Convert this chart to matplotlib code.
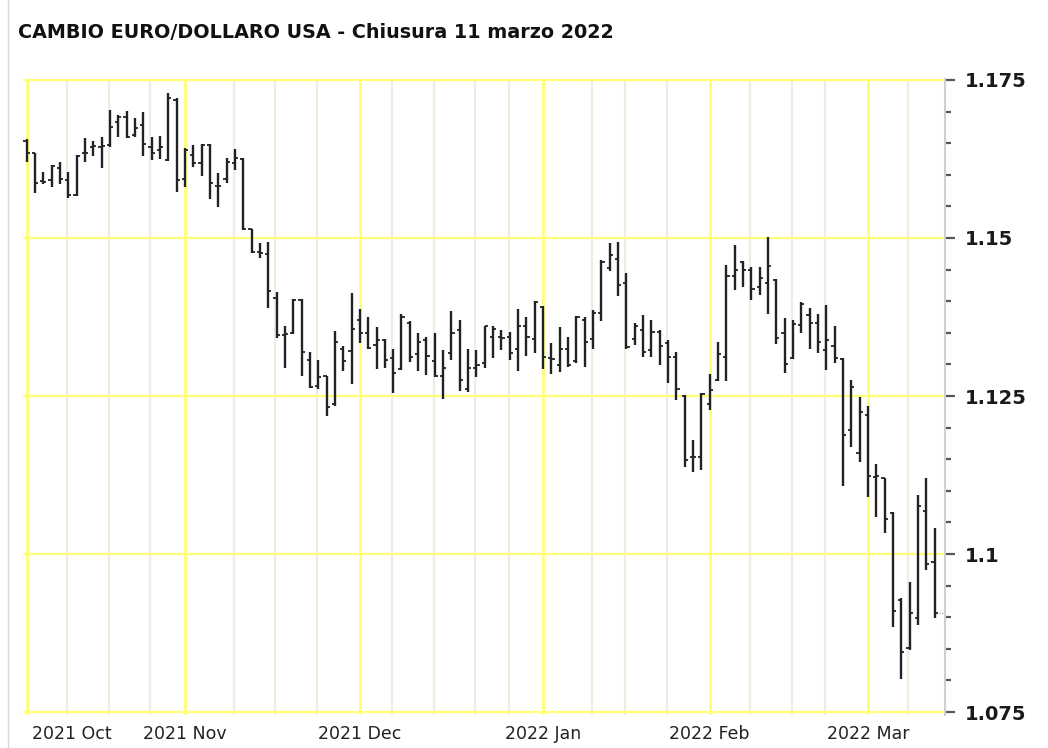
import numpy as np
import pandas as pd
import matplotlib
matplotlib.use('Agg')
import matplotlib.pyplot as plt
from matplotlib.lines import Line2D
from matplotlib.ticker import MultipleLocator, FuncFormatter

# trading days shown (US market holidays removed)
holidays = ['2021-10-11', '2021-11-25', '2021-12-24', '2022-01-17', '2022-02-21']
dates = pd.bdate_range('2021-10-04', '2022-03-11')
dates = dates[~dates.isin(pd.to_datetime(holidays))]

month_labels = ['2021 Oct', '2021 Nov', '2021 Dec', '2022 Jan', '2022 Feb', '2022 Mar']

opens = [1.1653, 1.1634, 1.1590, 1.1592, 1.1610, 1.1592, 1.1568, 1.1634, 1.1644, 1.1644,
         1.1647, 1.1684, 1.1692, 1.1663, 1.1678, 1.1644, 1.1639, 1.1623, 1.1718,
         1.1594, 1.1631, 1.1618, 1.1647, 1.1582, 1.1594, 1.1618, 1.1625, 1.1514, 1.1478,
         1.1475, 1.1405, 1.1347, 1.1349, 1.1402, 1.1307, 1.1266, 1.1281, 1.1237, 1.1324,
         1.1321,
         1.1371, 1.1349, 1.1331, 1.1339, 1.1310, 1.1292, 1.1366, 1.1316, 1.1339, 1.1306,
         1.1282, 1.1318, 1.1355, 1.1261, 1.1294, 1.1302, 1.1343, 1.1343, 1.1343, 1.1325,
         1.1361, 1.1340,
         1.1391, 1.1310, 1.1299, 1.1324, 1.1306, 1.1371, 1.1340, 1.1381, 1.1452, 1.1466,
         1.1429, 1.1340, 1.1354, 1.1323, 1.1352, 1.1334, 1.1312, 1.1250, 1.1153, 1.1153,
         1.1238, 1.1275, 1.1311, 1.1440, 1.1462, 1.1450, 1.1422, 1.1428, 1.1434, 1.1349,
         1.1310, 1.1362, 1.1378, 1.1366, 1.1322, 1.1329, 1.1308, 1.1197, 1.1160,
         1.1220, 1.1122, 1.1120, 1.1065, 1.0927, 1.0851, 1.0898, 1.1068, 1.0988]

highs = [1.1657, 1.1634, 1.1604, 1.1616, 1.1620, 1.1604, 1.1631, 1.1658, 1.1653, 1.1660,
         1.1703, 1.1695, 1.1701, 1.1690, 1.1699, 1.1660, 1.1661, 1.1729, 1.1721,
         1.1642, 1.1647, 1.1648, 1.1649, 1.1603, 1.1626, 1.1641, 1.1626, 1.1515, 1.1492,
         1.1493, 1.1415, 1.1360, 1.1403, 1.1403, 1.1320, 1.1307, 1.1281, 1.1353, 1.1329,
         1.1413,
         1.1387, 1.1375, 1.1359, 1.1340, 1.1324, 1.1380, 1.1368, 1.1350, 1.1343, 1.1349,
         1.1323, 1.1385, 1.1371, 1.1324, 1.1323, 1.1361, 1.1360, 1.1354, 1.1352, 1.1387,
         1.1375, 1.1401,
         1.1392, 1.1334, 1.1359, 1.1344, 1.1377, 1.1375, 1.1386, 1.1465, 1.1492, 1.1494,
         1.1444, 1.1366, 1.1378, 1.1370, 1.1354, 1.1339, 1.1320, 1.1252, 1.1180, 1.1254,
         1.1285, 1.1336, 1.1457, 1.1489, 1.1464, 1.1454, 1.1454, 1.1501, 1.1435, 1.1373,
         1.1371, 1.1398, 1.1389, 1.1380, 1.1394, 1.1361, 1.1310, 1.1275, 1.1248,
         1.1234, 1.1142, 1.1121, 1.1067, 1.0930, 1.0956, 1.1093, 1.1120, 1.1041]

lows = [1.1621, 1.1571, 1.1585, 1.1581, 1.1585, 1.1563, 1.1567, 1.1620, 1.1630, 1.1610,
        1.1644, 1.1660, 1.1658, 1.1660, 1.1629, 1.1623, 1.1625, 1.1622, 1.1572,
        1.1581, 1.1613, 1.1598, 1.1561, 1.1549, 1.1587, 1.1608, 1.1513, 1.1477, 1.1468,
        1.1389, 1.1341, 1.1294, 1.1348, 1.1281, 1.1262, 1.1261, 1.1219, 1.1234, 1.1290,
        1.1269,
        1.1334, 1.1324, 1.1292, 1.1294, 1.1254, 1.1291, 1.1304, 1.1290, 1.1283, 1.1280,
        1.1246, 1.1307, 1.1258, 1.1257, 1.1280, 1.1295, 1.1310, 1.1322, 1.1307, 1.1290,
        1.1313, 1.1318,
        1.1292, 1.1285, 1.1288, 1.1296, 1.1302, 1.1296, 1.1325, 1.1368, 1.1447, 1.1408,
        1.1325, 1.1331, 1.1312, 1.1312, 1.1299, 1.1271, 1.1244, 1.1138, 1.1129, 1.1133,
        1.1228, 1.1273, 1.1273, 1.1418, 1.1423, 1.1402, 1.1410, 1.1380, 1.1333, 1.1286,
        1.1308, 1.1349, 1.1325, 1.1318, 1.1291, 1.1303, 1.1108, 1.1169, 1.1146,
        1.1091, 1.1058, 1.1033, 1.0885, 1.0803, 1.0848, 1.0888, 1.0975, 1.0898]

closes = [1.1635, 1.1587, 1.1589, 1.1614, 1.1594, 1.1568, 1.1629, 1.1635, 1.1645, 1.1646,
          1.1675, 1.1692, 1.1659, 1.1674, 1.1648, 1.1634, 1.1644, 1.1721, 1.1592,
          1.1639, 1.1618, 1.1647, 1.1587, 1.1582, 1.1621, 1.1626, 1.1515, 1.1478, 1.1476,
          1.1416, 1.1347, 1.1348, 1.1402, 1.1320, 1.1264, 1.1280, 1.1233, 1.1335, 1.1305,
          1.1356,
          1.1349, 1.1326, 1.1339, 1.1307, 1.1287, 1.1375, 1.1311, 1.1336, 1.1313, 1.1281,
          1.1295, 1.1349, 1.1275, 1.1294, 1.1299, 1.1360, 1.1356, 1.1342, 1.1318, 1.1360,
          1.1343, 1.1399,
          1.1311, 1.1308, 1.1324, 1.1299, 1.1375, 1.1336, 1.1381, 1.1462, 1.1473, 1.1426,
          1.1327, 1.1360, 1.1320, 1.1351, 1.1329, 1.1312, 1.1261, 1.1149, 1.1153, 1.1253,
          1.1260, 1.1316, 1.1440, 1.1449, 1.1450, 1.1419, 1.1436, 1.1455, 1.1341, 1.1301,
          1.1364, 1.1396, 1.1366, 1.1336, 1.1339, 1.1310, 1.1188, 1.1265, 1.1224,
          1.1123, 1.1123, 1.1056, 1.0910, 1.0845, 1.0906, 1.1076, 1.0985, 1.0906]

x = np.arange(len(dates))

fig = plt.figure(figsize=(10.48, 7.48), dpi=100)
ax = fig.add_axes([22.5 / 1048, 1 - 715.2 / 748, 922.5 / 1048, 636.5 / 748])
ax.set_xlim(-0.5, 110.25)
ax.set_ylim(1.0745, 1.1752)

# month and week grid lines
month_idx = [i for i in range(len(dates)) if i == 0 or dates[i].month != dates[i - 1].month]
week_idx = [i for i in range(len(dates)) if dates[i].weekday() == 1
            and min(abs(i - m) for m in month_idx) > 1]
for i in week_idx:
    ax.axvline(i - 0.15, color='#f0ede0', lw=1.6, zorder=1)
for i in month_idx:
    ax.axvline(i, color='#ffff78', lw=2, zorder=2)
for v in [1.075, 1.1, 1.125, 1.15, 1.175]:
    ax.axhline(v, color='#ffff78', lw=1.6, zorder=2)

# OHLC bars
bar_color = '#222222'
ax.vlines(x, lows, highs, color=bar_color, lw=1.7, zorder=3)
ax.hlines(opens, x - 0.38, x, color=bar_color, lw=1.3, zorder=3)
ax.hlines(closes, x, x + 0.38, color=bar_color, lw=1.3, zorder=3)
ax.plot([x[-1] + 0.5, 110.25], [closes[-1], closes[-1]], ls=':', color='#999999', lw=0.8, zorder=3)

# axes styling
for s in ['top', 'left', 'bottom']:
    ax.spines[s].set_visible(False)
ax.spines['right'].set_color('#cfcfcf')
ax.spines['right'].set_linewidth(1.5)
ax.yaxis.tick_right()
ax.yaxis.set_major_locator(MultipleLocator(0.025))
ax.yaxis.set_minor_locator(MultipleLocator(0.005))
ax.yaxis.set_major_formatter(FuncFormatter(lambda v, p: ('%.3f' % v).rstrip('0')))
ax.tick_params(axis='y', which='major', length=7.5, width=1.6, color='#555555', pad=7,
               labelsize=14, labelcolor='#1a1a1a')
ax.tick_params(axis='y', which='minor', length=4.5, width=1.6, color='#555555')
for lab in ax.get_yticklabels():
    lab.set_fontweight('bold')
ax.set_xticks([])

# month labels under the axis
for k, i in enumerate(month_idx):
    if k == 0:
        ax.text(i + 0.7, -0.03, month_labels[k], transform=ax.get_xaxis_transform(),
                ha='left', va='center', fontsize=12.5, color='#222222', family='DejaVu Sans')
    else:
        ax.text(i, -0.03, month_labels[k], transform=ax.get_xaxis_transform(),
                ha='center', va='center', fontsize=12.5, color='#222222', family='DejaVu Sans')

fig.text(18 / 1048, 1 - 33 / 748, 'CAMBIO EURO/DOLLARO USA - Chiusura 11 marzo 2022',
         fontsize=13.8, fontweight='bold', family='DejaVu Sans', color='#111111', va='center')
fig.add_artist(Line2D([8 / 1048, 8 / 1048], [0, 1], color='#d8d8d8', lw=1))

fig.savefig('out.png', dpi=100)
